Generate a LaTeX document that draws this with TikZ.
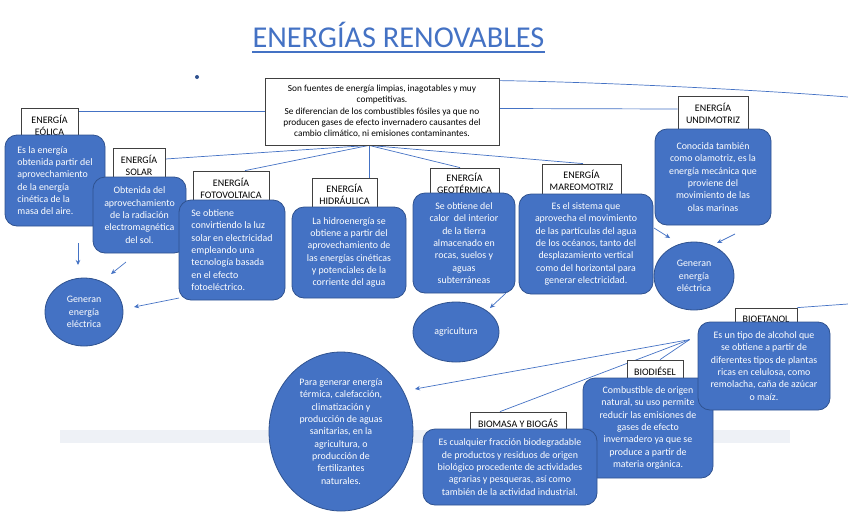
\documentclass[tikz,border=0pt]{standalone}
\usepackage{fontspec}
\setmainfont{Carlito}
\usetikzlibrary{shapes.geometric,arrows.meta,backgrounds}
\definecolor{bfill}{HTML}{4472C4}
\definecolor{bdraw}{HTML}{2F528F}
\definecolor{lblue}{HTML}{4472C4}
\definecolor{bandc}{HTML}{EEF1F6}
\definecolor{tbord}{HTML}{404040}
\begin{document}
\begin{tikzpicture}[x=1pt,y=-1pt,
 bluebox/.style={rectangle, rounded corners=12pt, fill=bfill, draw=bdraw, line width=0.8pt, text=white, font=\fontsize{9.9}{12.3}\selectfont, inner sep=0pt},
 titlebox/.style={rectangle, fill=white, draw=tbord, line width=0.8pt, font=\fontsize{10}{12}\selectfont, align=center, inner sep=0pt},
 blueell/.style={ellipse, fill=bfill, draw=bdraw, line width=0.8pt, text=white, font=\fontsize{9.9}{12.3}\selectfont, align=center, inner sep=0pt},
 ln/.style={draw=lblue, line width=0.7pt},
 arr/.style={ln, -{Stealth[length=5pt,width=4.5pt]}},
]
\useasboundingbox (0,0) rectangle (848,515);

% title
\node[anchor=base, inner sep=0pt, text=lblue, font=\fontsize{30.3}{34}\selectfont] (ttl) at (398.5,47) {ENERGÍAS RENOVABLES};
\node[circle, fill=bdraw, inner sep=0pt, minimum size=4pt] (dot) at (197,77) {};

% top box
\node[rectangle, fill=white, draw=tbord, line width=0.8pt, minimum width=234, minimum height=67, align=center, inner sep=0pt, font=\fontsize{9.3}{11.2}\selectfont] (topb) at (382,111.5)
 {Son fuentes de energía limpias, inagotables y muy\\competitivas.\\Se diferencian de los combustibles fósiles ya que no\\producen gases de efecto invernadero causantes del\\cambio climático, ni emisiones contaminantes.};

% title boxes
\node[titlebox, minimum width=57, minimum height=34] (eolt) at (49.5,125) {ENERGÍA\\EÓLICA};
\node[titlebox, minimum width=52, minimum height=34] (solt) at (139,165) {ENERGÍA\\SOLAR};
\node[titlebox, minimum width=76, minimum height=34] (fott) at (231,188) {ENERGÍA\\FOTOVOLTAICA};
\node[titlebox, minimum width=65, minimum height=32] (hidt) at (344.5,194) {ENERGÍA\\HIDRÁULICA};
\node[titlebox, minimum width=69, minimum height=30] (geot) at (464.5,183) {ENERGÍA\\GEOTÉRMICA};
\node[titlebox, minimum width=79, minimum height=32] (mart) at (581.5,180) {ENERGÍA\\MAREOMOTRIZ};
\node[titlebox, minimum width=70, minimum height=34] (undt) at (713,113) {ENERGÍA\\UNDIMOTRIZ};
\node[titlebox, minimum width=96, minimum height=22] (biomt) at (518,423) {BIOMASA Y BIOGÁS};
\node[titlebox, minimum width=56, minimum height=22] (biodt) at (655,371) {BIODIÉSEL};
\node[titlebox, minimum width=62, minimum height=22] (bioet) at (766,319) {BIOETANOL};

% blue boxes
\node[bluebox, minimum width=100, minimum height=91, align=left] (eolb) at (55,180.5)
 {Es la energía\\obtenida partir del\\aprovechamiento\\de la energía\\cinética de la\\masa del aire.};
\node[bluebox, minimum width=93, minimum height=76, align=center] (solb) at (139.5,215)
 {Obtenida del\\aprovechamiento\\de la radiación\\electromagnética\\del sol.};
\node[bluebox, minimum width=106, minimum height=100, align=left] (fotb) at (232,250)
 {Se obtiene\\convirtiendo la luz\\solar en electricidad\\empleando una\\tecnología basada\\en el efecto\\fotoeléctrico.};
\node[bluebox, minimum width=114, minimum height=91, align=center] (hidb) at (349,252.5)
 {La hidroenergía se\\obtiene a partir del\\aprovechamiento de\\las energías cinéticas\\y potenciales de la\\corriente del agua};
\node[bluebox, minimum width=102, minimum height=100, align=center] (geob) at (464,243)
 {Se obtiene del\\calor \ del interior\\de la tierra\\almacenado en\\rocas, suelos y\\aguas\\subterráneas};
\node[bluebox, minimum width=134, minimum height=100, align=center] (marb) at (586,244)
 {Es el sistema que\\aprovecha el movimiento\\de las partículas del agua\\de los océanos, tanto del\\desplazamiento vertical\\como del horizontal para\\generar electricidad.};
\node[bluebox, minimum width=116, minimum height=96, align=center] (undb) at (713,177)
 {Conocida también\\como olamotriz, es la\\energía mecánica que\\proviene del\\movimiento de las\\olas marinas};
\node[bluebox, minimum width=130, minimum height=100, align=center] (biodb) at (648,428)
 {Combustible de origen\\natural, su uso permite\\reducir las emisiones de\\gases de efecto\\invernadero ya que se\\produce a partir de\\materia orgánica.};
\node[bluebox, minimum width=132, minimum height=88, align=center] (bioeb) at (764,366)
 {Es un tipo de alcohol que\\se obtiene a partir de\\diferentes tipos de plantas\\ricas en celulosa, como\\remolacha, caña de azúcar\\o maíz.};
\node[bluebox, minimum width=174, minimum height=76, align=center] (biomb) at (510,467)
 {Es cualquier fracción biodegradable\\de productos y residuos de origen\\biológico procedente de actividades\\agrarias y pesqueras, así como\\también de la actividad industrial.};

% ellipses
\node[blueell, minimum width=78, minimum height=68] (gen1) at (84,312) {Generan\\energía\\eléctrica};
\node[blueell, minimum width=80, minimum height=68] (gen2) at (694,276) {Generan\\energía\\eléctrica};
\node[blueell, minimum width=86, minimum height=60] (agri) at (456,332) {agricultura};
\node[blueell, minimum width=144, minimum height=159] (bigell) at (341,431.5)
 {Para generar energía\\térmica, calefacción,\\climatización y\\producción de aguas\\sanitarias, en la\\agricultura, o\\producción de\\fertilizantes\\naturales.};

% helper coordinates
\coordinate (hub) at ([shift={(-13,0)}]topb.south);
\coordinate (fan) at ([shift={(-8,18)}]bioeb.north west);
\coordinate (edge1) at (848,97);
\coordinate (edge2) at (848,304);

\begin{scope}[on background layer]
\fill[bandc] (60,430) rectangle (790,443);
\draw[lblue, line width=1.8pt] ([shift={(0,5)}]ttl.base west) -- ([shift={(0,5)}]ttl.base east);
\draw[ln] (topb.west) -- (eolt.east |- topb.west);
\draw[ln] ([shift={(0,-3)}]topb.east) -- ([shift={(0,-4)}]undt.west);
\draw[ln] ([shift={(0,3)}]topb.north east) .. controls (600,82) and (760,90) .. (edge1);
\draw[ln] (bioet.north east) -- (edge2);
\draw[ln] (hub) -- ([shift={(0,-6)}]solt.east);
\draw[ln] (hub) -- ([shift={(14,0)}]fott.north);
\draw[ln] (hub) -- ([shift={(24.5,0)}]hidt.north);
\draw[ln] (hub) -- ([shift={(-4.5,0)}]geot.north);
\draw[ln] (hub) -- ([shift={(1.5,0)}]mart.north);
\draw[ln] (fan) -- ([shift={(-18,0)}]biomt.north);
\draw[ln] (fan) -- ([shift={(5,0)}]biodt.north);
\end{scope}

% arrows
\draw[arr] ([shift={(23,62.5)}]eolb.center) -- ([shift={(-6,-47)}]gen1.center);
\draw[arr] ([shift={(-13.5,47)}]solb.center) -- ([shift={(27,-38)}]gen1.center);
\draw[arr] ([shift={(-53,48)}]fotb.center) -- ([shift={(50,-5)}]gen1.center);
\draw[arr] ([shift={(68,-16)}]marb.center) -- ([shift={(-24,-38)}]gen2.center);
\draw[arr] ([shift={(22,57)}]undb.center) -- ([shift={(23,-33)}]gen2.center);
\draw[arr] ([shift={(42,50)}]geob.center) -- ([shift={(34,-24)}]agri.center);
\draw[arr] (fan) -- ([shift={(74,-42.5)}]bigell.center);
\end{tikzpicture}
\end{document}
